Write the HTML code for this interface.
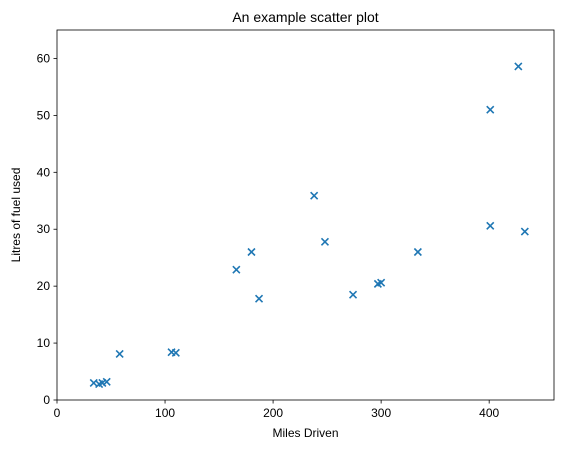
<!DOCTYPE html>
<html><head><meta charset="utf-8"><style>
body{margin:0;background:#fff;}
svg{display:block;font-family:"Liberation Sans","DejaVu Sans",sans-serif;}
</style></head><body>
<svg id="chart" width="563" height="453"></svg>
<script>
const milesDriven=[34,39,42,46,58,106,110,166,180,187,238,248,274,297,300,334,401,401,427,433];
const litresUsed=[3.0,2.8,3.0,3.2,8.1,8.4,8.3,22.9,26.0,17.8,35.9,27.8,18.5,20.4,20.6,26.0,51.0,30.6,58.6,29.6];
const xTicks=[0,100,200,300,400];
const yTicks=[0,10,20,30,40,50,60];
const L=57,R=554,T=30,B=400,XMAX=460,YMAX=65;
const sx=v=>L+v/XMAX*(R-L), sy=v=>B-v/YMAX*(B-T);
const svg=document.getElementById('chart');const NS='http://www.w3.org/2000/svg';
function mk(t,a,p){const e=document.createElementNS(NS,t);for(const k in a)e.setAttribute(k,a[k]);(p||svg).appendChild(e);return e;}
const frame=mk('rect',{x:L,y:T,width:R-L,height:B-T,fill:'none',stroke:'#000','stroke-width':0.8});


xTicks.forEach(v=>{const x=sx(v);
 const tk=mk('line',{x1:x,x2:x,y1:B,y2:B+3.5,stroke:'#000','stroke-width':0.8});
 
 
 const t=mk('text',{x:x,y:B+17,'text-anchor':'middle','font-size':12});t.textContent=v;
 
 });
yTicks.forEach(v=>{const y=sy(v);
 const tk=mk('line',{x1:L-3.5,x2:L,y1:y,y2:y,stroke:'#000','stroke-width':0.8});
 
 
 const t=mk('text',{x:L-7,y:y+4,'text-anchor':'end','font-size':12});t.textContent=v;
 
 });
milesDriven.forEach((m,i)=>{const x=sx(m),y=sy(litresUsed[i]),s=3.5;
 const p=mk('path',{d:`M${x-s},${y-s}L${x+s},${y+s}M${x-s},${y+s}L${x+s},${y-s}`,stroke:'#1f77b4','stroke-width':1.6});
 
 });
const title=mk('text',{x:(L+R)/2,y:22,'text-anchor':'middle','font-size':14});title.textContent='An example scatter plot';


const xl=mk('text',{x:(L+R)/2,y:437,'text-anchor':'middle','font-size':12});xl.textContent='Miles Driven';


const yl=mk('text',{x:20,y:(T+B)/2,'text-anchor':'middle','font-size':12,transform:`rotate(-90 20 ${(T+B)/2})`});yl.textContent='Litres of fuel used';


</script>
</body></html>
